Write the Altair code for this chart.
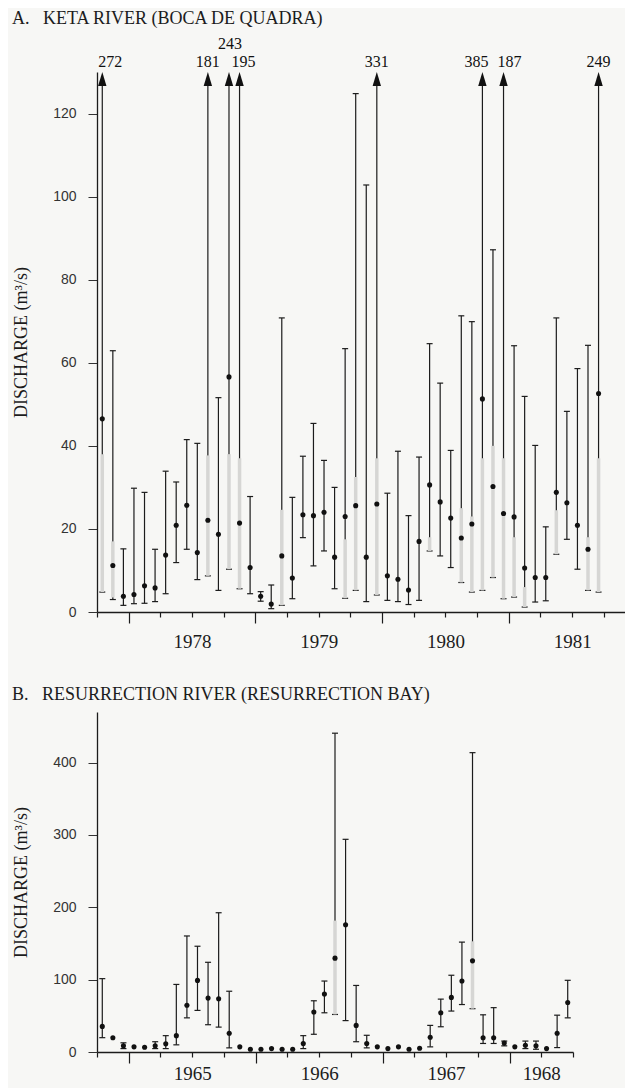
import altair as alt
import pandas as pd

# ---------------- Panel A: Keta River (Boca de Quadra), monthly from Oct 1977 ----------------
keta_start = (1977, 10)
keta_mean = [46.5, 11.2, 3.8, 4.2, 6.3, 5.8, 13.7, 20.9, 25.7, 14.3, 22.1, 18.7,
             56.6, 21.4, 10.7, 3.8, 1.9, 13.5, 8.2, 23.4, 23.2, 24.0, 13.2, 23.0,
             25.6, 13.2, 26.0, 8.7, 7.9, 5.3, 17.0, 30.6, 26.5, 22.6, 17.8, 21.2,
             51.3, 30.2, 23.7, 22.9, 10.6, 8.3, 8.3, 28.8, 26.3, 20.9, 15.1, 52.6]
keta_low = [4.8, 3.0, 1.6, 2.0, 2.1, 2.5, 4.4, 11.9, 15.1, 7.8, 8.7, 5.2,
            10.3, 5.6, 4.4, 2.6, 0.8, 1.6, 3.2, 17.9, 11.1, 14.7, 5.6, 3.3,
            5.2, 2.5, 4.1, 2.8, 2.5, 1.8, 2.8, 14.7, 13.5, 10.7, 7.1, 4.8,
            5.2, 8.3, 3.2, 3.6, 1.2, 2.4, 2.7, 13.9, 17.5, 10.3, 5.2, 4.8]
keta_high = [272, 62.9, 15.2, 29.8, 28.8, 15.1, 33.9, 31.3, 41.5, 40.6, 181, 51.6,
             243, 195, 27.8, 4.9, 6.5, 70.8, 27.6, 37.5, 45.4, 36.5, 30.0, 63.4,
             124.8, 102.8, 331, 28.6, 38.7, 23.2, 37.3, 64.6, 55.1, 38.9, 71.3, 69.9,
             385, 87.2, 187, 64.1, 51.9, 40.1, 20.5, 70.8, 48.3, 58.6, 64.2, 249]
# faded (grey) portions of the bars as printed
keta_faded_low = [4.8, 3.5, None, None, None, None, None, None, None, None, 8.7, None,
                  10.3, 5.6, None, None, None, 1.6, None, None, None, None, None, 3.3,
                  5.2, None, 4.1, None, None, None, None, 14.7, None, None, 7.1, 4.8,
                  5.2, 8.3, 3.2, 3.6, 1.2, None, None, 13.9, None, None, 5.2, 4.8]
keta_faded_high = [38, 17, None, None, None, None, None, None, None, None, 37.7, None,
                   38, 37, None, None, None, 24.6, None, None, None, None, None, 17.5,
                   32.5, None, 37, None, None, None, None, 18, None, None, 25, 23,
                   37, 40, 37, 18, 6, None, None, 24.5, None, None, 18, 37]
keta_yticks = [0, 20, 40, 60, 80, 100, 120]
keta_ydomain = [0, 130]
keta_xdomain = [1977.75, 1981.917]
keta_label_at = [1978.5, 1979.5, 1980.5, 1981.5]

# ---------------- Panel B: Resurrection River (Resurrection Bay), monthly from Oct 1964 ----------------
res_start = (1964, 10)
res_mean = [35.4, 19.8, 8.5, 7.1, 6.6, 8.5, 11.3, 22.6, 64.6, 99.0, 74.5, 73.6,
            25.9, 7.1, 3.8, 3.8, 4.7, 3.8, 3.8, 11.8, 55.2, 80.2, 129.7, 176.0,
            36.8, 11.8, 7.1, 4.7, 7.1, 3.8, 5.2, 20.3, 54.2, 75.5, 98.1, 126.0,
            19.8, 19.8, 12.3, 7.1, 9.4, 8.5, 4.7, 25.9, 68.4]
res_low = [19.8, None, 4.7, None, None, 4.7, 4.7, 9.9, 47.2, 57.5, 37.7, 34.4,
           5.7, None, None, None, None, None, None, 4.7, 24.5, 54.2, 51.9, 43.4,
           14.2, 5.7, None, None, None, None, None, 7.1, 34.9, 56.6, 65.6, 59.9,
           11.8, 11.8, 8.5, None, 4.7, 3.8, None, 6.1, 47.2]
res_high = [101.4, None, 12.7, None, None, 14.2, 22.6, 93.4, 160.4, 146.2, 124.0, 192.5,
            84.0, None, None, None, None, None, None, 22.6, 70.8, 98.1, 440.7, 294.0,
            92.0, 23.1, None, None, None, None, None, 36.8, 73.1, 106.1, 151.9, 413.8,
            51.4, 61.3, 15.1, None, 15.1, 15.1, None, 50.9, 99.1]
res_faded_low = [None] * 22 + [51.9] + [None] * 12 + [59.9] + [None] * 9
res_faded_high = [None] * 22 + [181.6] + [None] * 12 + [153.0] + [None] * 9
res_yticks = [0, 100, 200, 300, 400]
res_ydomain = [0, 470]
res_xdomain = [1964.75, 1968.5]
res_label_at = [1965.5, 1966.5, 1967.5, 1968.25]

# label placement tweaks for the off-scale peaks (pixels)
peak_label_style = {272: (8, -10), 195: (4, -10), 385: (-6, -10), 187: (6, -10), 243: (1, -28)}

SERIF = "Liberation Serif"
SANS = "Liberation Sans"
INK = "#1c1c1c"
PX_PER_YEAR = 126.8


def month_positions(start, n):
    y, m = start
    out = []
    for i in range(n):
        k = m - 1 + i
        out.append(y + k // 12 + ((k % 12) + 0.5) / 12)
    return out


def quarter_ticks(dom):
    vals = []
    v = dom[0]
    while v <= dom[1] + 1e-9:
        vals.append(round(v, 4))
        v += 0.25
    return vals


def panel(title, start, mean, low, high, flo, fhi, ydom, yticks, xdom, label_at, height,
          peak_style, xlabel_pad):
    n = len(mean)
    df = pd.DataFrame({
        "t": month_positions(start, n),
        "mean": mean, "low": low, "high": high, "flo": flo, "fhi": fhi,
    })
    ymax = ydom[1]
    width = round((xdom[1] - xdom[0]) * PX_PER_YEAR)
    lab = ",".join(str(v) for v in label_at)
    xaxis = alt.Axis(
        values=quarter_ticks(xdom),
        tickSize={"condition": {"test": "datum.value % 1 == 0", "value": 11}, "value": 5},
        tickColor=INK, tickWidth=1.2, domainColor=INK, domainWidth=1.3,
        labelExpr=f"indexof([{lab}], datum.value) >= 0 ? floor(datum.value) : ''",
        labelFont=SERIF, labelFontSize=19, labelColor=INK, labelPadding=xlabel_pad,
        labelOverlap=False, labelFlush=False, grid=False, title=None,
    )
    yaxis = alt.Axis(
        values=yticks, tickSize=9, tickColor="#333", tickWidth=1, domainColor=INK, domainWidth=1.3,
        labelFont=SANS, labelFontSize=14, labelColor="#333", labelPadding=12,
        minExtent=44, maxExtent=44, grid=False,
        title="DISCHARGE (m³/s)", titleFont=SERIF, titleFontSize=18, titleFontWeight="normal",
        titleColor=INK, titlePadding=23,
    )
    xs = alt.Scale(domain=xdom, nice=False, zero=False)
    ys = alt.Scale(domain=ydom, nice=False, zero=True)
    X = alt.X("t:Q", scale=xs, axis=xaxis)

    def Y(f):
        return alt.Y(f, scale=ys, axis=yaxis)

    base = alt.Chart(df)
    bars = base.transform_filter("isValid(datum.low)").transform_calculate(
        top=f"min(datum.high, {ymax - 1})"
    ).mark_rule(color=INK, strokeWidth=1.2).encode(x=X, y=Y("low:Q"), y2="top:Q")
    cap_lo = base.transform_filter("isValid(datum.low)").mark_tick(
        orient="horizontal", size=6, thickness=1.2, color=INK, opacity=1
    ).encode(x=X, y=Y("low:Q"))
    cap_hi = base.transform_filter(f"isValid(datum.high) && datum.high <= {ymax}").mark_tick(
        orient="horizontal", size=6, thickness=1.2, color=INK, opacity=1
    ).encode(x=X, y=Y("high:Q"))
    faded = base.transform_filter("isValid(datum.flo)").mark_rule(
        color="#d6d6d4", strokeWidth=3.5
    ).encode(x=X, y=Y("flo:Q"), y2="fhi:Q")
    dots = base.mark_circle(size=26, color="#111", opacity=1).encode(x=X, y=Y("mean:Q"))
    layers = [bars, cap_lo, cap_hi, faded, dots]

    peaks = base.transform_filter(f"isValid(datum.high) && datum.high > {ymax}").transform_calculate(
        tip=str(ymax)
    )
    arrows = peaks.mark_point(
        shape="M0,0L0.6,2L-0.6,2Z", size=196, filled=True, color="#111", opacity=1, strokeWidth=0
    ).encode(x=X, y=Y("tip:Q"))
    layers.append(arrows)

    groups = {}
    for v in [h for h in high if h is not None and h > ymax]:
        st = peak_style.get(int(v), (0, -10))
        groups.setdefault(st, []).append(int(v))
    for (dx, dy), vals in groups.items():
        lst = ",".join(str(v) for v in vals)
        layers.append(
            peaks.transform_filter(f"indexof([{lst}], datum.high) >= 0").mark_text(
                font=SERIF, fontSize=16, color="#111", dx=dx, dy=dy, baseline="middle", align="center"
            ).encode(x=X, y=Y("tip:Q"), text=alt.Text("high:Q", format="d"))
        )

    return alt.layer(*layers).properties(
        width=width, height=height,
        title=alt.TitleParams(title, anchor="start", frame="bounds", font=SERIF, fontSize=18,
                              fontWeight="normal", color=INK, offset=8),
    )


A = panel("A.\u00a0\u00a0\u00a0KETA RIVER (BOCA DE QUADRA)", keta_start, keta_mean, keta_low, keta_high,
          keta_faded_low, keta_faded_high, keta_ydomain, keta_yticks, keta_xdomain, keta_label_at, 540,
          peak_label_style, 15)
B = panel("B.\u00a0\u00a0\u00a0RESURRECTION RIVER (RESURRECTION BAY)", res_start, res_mean, res_low, res_high,
          res_faded_low, res_faded_high, res_ydomain, res_yticks, res_xdomain, res_label_at, 340,
          peak_label_style, 7)

chart = alt.vconcat(A, B, spacing=29).properties(
    padding={"left": 4, "top": 2, "right": 0, "bottom": 0},
    background="#f7f7f5",
).configure_view(stroke=None)

chart.save("out.html", embed_options={"renderer": "svg", "actions": False})
